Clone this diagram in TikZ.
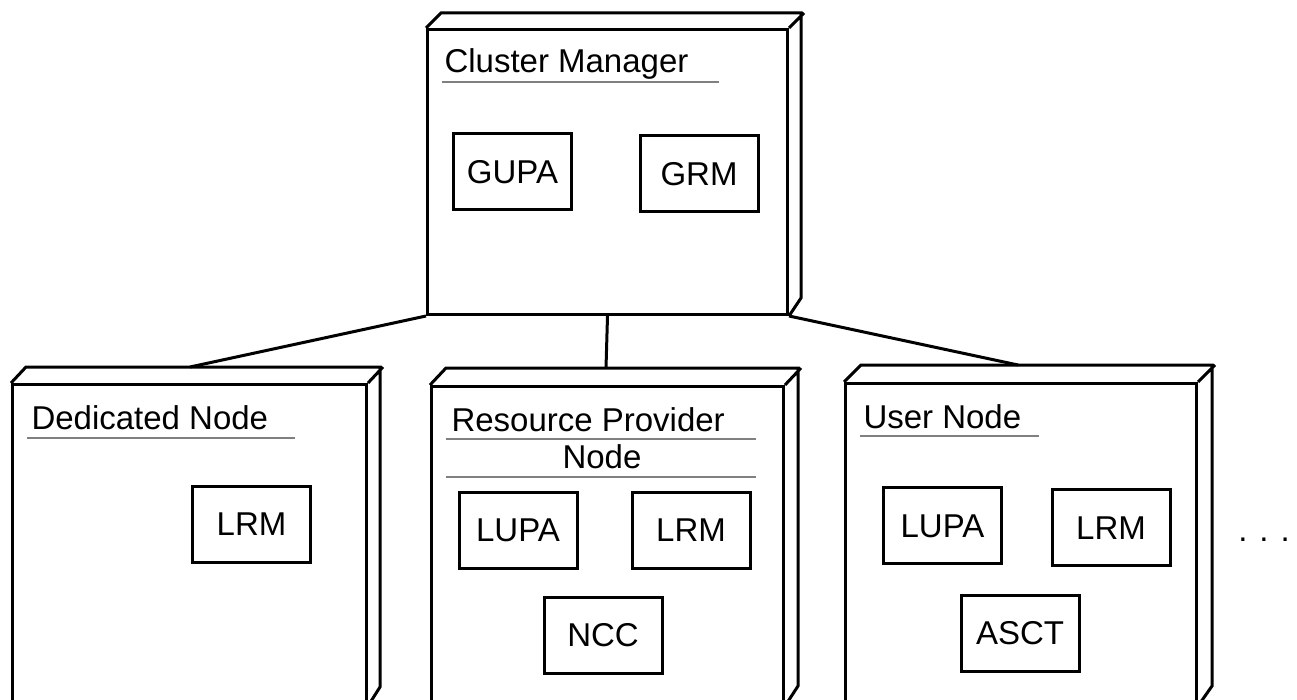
\documentclass[tikz,border=0pt]{standalone}
\usepackage{fontspec}
\setmainfont{Liberation Sans}
\begin{document}
\begin{tikzpicture}[x=1pt,y=-1pt,line width=3pt,
  face/.style={draw,inner sep=0pt,anchor=north west},
  part/.style={draw,inner sep=0pt,minimum width=118pt,minimum height=76pt,text height=23.6pt,text depth=0pt},
  title/.style={anchor=base west,inner sep=0pt},
  rule/.style={draw=gray,line width=2.6pt}]
  \fontsize{33}{38}\selectfont
  \clip (0,0) rectangle (1297,700);
  \node[face,minimum width=360pt,minimum height=285pt] (cm) at (426,28) {};
  \draw (cm.north west) -- ++(15,-15) -- ++(360,0) -- ++(0,285) -- (cm.south east) (cm.north east) -- ++(15,-15);
  \node[face,minimum width=354pt,minimum height=320pt] (ded) at (11,383) {};
  \draw (ded.north west) -- ++(15,-16) -- ++(354,0) -- ++(0,320) -- (ded.south east) (ded.north east) -- ++(15,-16);
  \node[face,minimum width=352pt,minimum height=318pt] (rpn) at (430,385) {};
  \draw (rpn.north west) -- ++(16,-17) -- ++(352,0) -- ++(0,318) -- (rpn.south east) (rpn.north east) -- ++(16,-17);
  \node[face,minimum width=351pt,minimum height=321pt] (usr) at (844,382) {};
  \draw (usr.north west) -- ++(17,-17) -- ++(351,0) -- ++(0,321) -- (usr.south east) (usr.north east) -- ++(17,-17);

  \node[title] (cm-t) at (443,73) {Cluster Manager};
  \draw[rule] (442,82) -- (719,82);
  \node[title] (ded-t) at (30,429) {Dedicated Node};
  \draw[rule] (27,438) -- (295,438);
  \node[title] (rpn-t) at (450,431) {Resource Provider};
  \draw[rule] (446,439) -- (756,439);
  \node[anchor=base,inner sep=0pt] (rpn-t2) at (602,468) {Node};
  \draw[rule] (446,477) -- (756,477);
  \node[title] (usr-t) at (862,428) {User Node};
  \draw[rule] (860,436) -- (1039,436);

  \node[part] (gupa) at (512.5,172) {GUPA};
  \node[part] (grm) at (699,173.5) {GRM};
  \node[part] (ded-lrm) at (251.5,524) {LRM};
  \node[part] (rpn-lupa) at (518,530) {LUPA};
  \node[part] (rpn-lrm) at (691,530) {LRM};
  \node[part] (rpn-ncc) at (603,635) {NCC};
  \node[part] (usr-lupa) at (942.5,525.5) {LUPA};
  \node[part] (usr-lrm) at (1111,527.5) {LRM};
  \node[part] (usr-asct) at (1020,633) {ASCT};

  \node[anchor=base,inner sep=0pt] (more) at (1264,541) {.\hspace{12pt}.\hspace{12pt}.};

  \coordinate (ded-in) at (190,367);
  \coordinate (rpn-in) at (606,368);
  \coordinate (usr-in) at (1018,365);
  \draw (cm.south west) -- (ded-in);
  \draw (cm.south) -- (rpn-in);
  \draw (cm.south east) -- (usr-in);
\end{tikzpicture}
\end{document}
